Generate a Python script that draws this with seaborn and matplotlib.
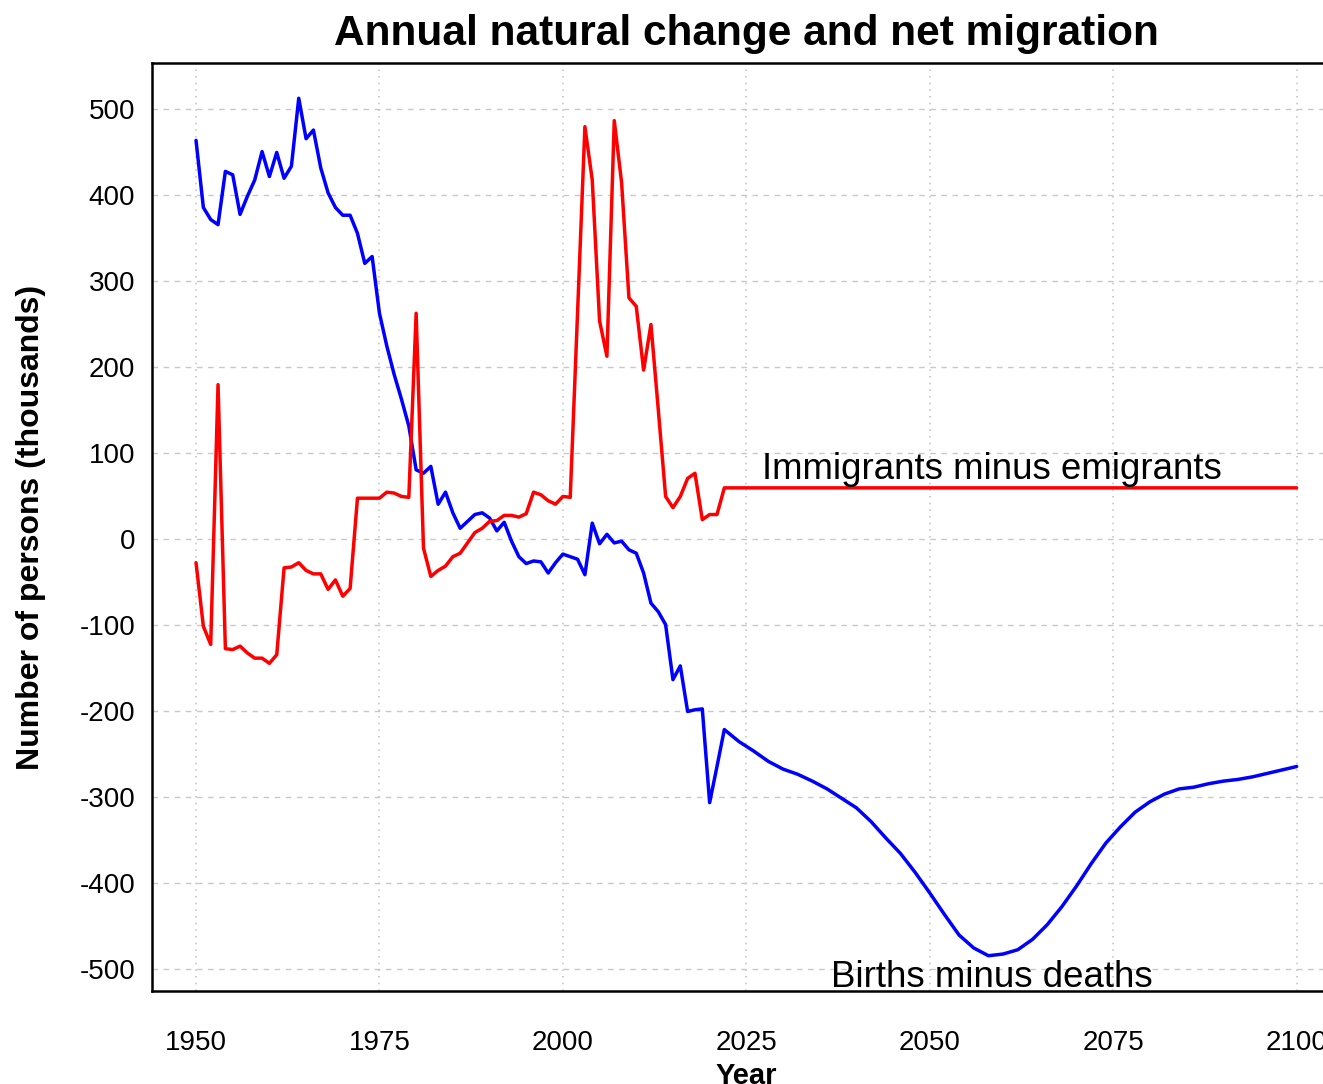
import matplotlib
matplotlib.use("Agg")
import matplotlib.pyplot as plt
import seaborn as sns
import pandas as pd
from matplotlib.ticker import MultipleLocator

# ---------------- data ----------------
natural_years = list(range(1950, 2022)) + list(range(2022, 2101, 2))
natural_values = [
    463, 385, 371, 365, 427, 423, 377, 398, 417, 450,   # 1950-1959
    421, 449, 419, 433, 512, 465, 475, 431, 402, 385,   # 1960-1969
    376, 376, 355, 320, 328, 262, 224, 191, 162, 131,   # 1970-1979
    80, 76, 84, 40, 54, 30, 12, 20, 28, 30,             # 1980-1989
    24, 9, 19, -3, -21, -29, -26, -27, -40, -28,        # 1990-1999
    -18, -21, -24, -42, 18, -6, 5, -5, -3, -13,         # 2000-2009
    -17, -40, -75, -85, -100, -164, -148, -201, -199, -198,  # 2010-2019
    -307, -265,                                         # 2020-2021
    # projection 2022-2100 (every 2 years)
    -222, -236, -247, -259, -268, -274, -282, -291, -302, -313,
    -329, -348, -366, -388, -412, -437, -461, -476, -485, -483,
    -478, -466, -449, -428, -404, -378, -354, -335, -318, -306,
    -297, -291, -289, -285, -282, -280, -277, -273, -269, -265,
]

migration_years = list(range(1950, 2022)) + [2022, 2100]
migration_values = [
    -28, -102, -123, 179, -128, -129, -125, -133, -139, -139,  # 1950-1959
    -145, -135, -34, -33, -28, -37, -41, -41, -59, -48,        # 1960-1969
    -67, -58, 47, 47, 47, 47, 54, 53, 49, 48,                  # 1970-1979
    262, -11, -44, -37, -32, -21, -17, -5, 7, 12,              # 1980-1989
    20, 21, 27, 27, 25, 29, 54, 51, 44, 40,                    # 1990-1999
    49, 48, 263, 479, 417, 253, 212, 486, 414, 280,            # 2000-2009
    270, 196, 249, 150, 49, 36, 49, 70, 76, 22,                # 2010-2019
    28, 28,                                                    # 2020-2021
    59, 59,                                                    # projection
]

series_names = ["Births minus deaths", "Immigrants minus emigrants"]
series_colors = {"Births minus deaths": "#0000ff",
                 "Immigrants minus emigrants": "#ff0000"}

x_ticks = [1950, 1975, 2000, 2025, 2050, 2075, 2100]
y_ticks = [-500, -400, -300, -200, -100, 0, 100, 200, 300, 400, 500]

df = pd.concat([
    pd.DataFrame({"year": natural_years, "value": natural_values,
                  "series": series_names[0]}),
    pd.DataFrame({"year": migration_years, "value": migration_values,
                  "series": series_names[1]}),
], ignore_index=True)

# ---------------- plot ----------------
sns.set_style("white")
plt.rcParams["font.family"] = ["Liberation Sans", "DejaVu Sans"]
plt.rcParams["text.color"] = "black"
plt.rcParams["axes.labelcolor"] = "black"
plt.rcParams["xtick.color"] = "black"
plt.rcParams["ytick.color"] = "black"

W, H = 1323, 1084
fig = plt.figure(figsize=(W / 100, H / 100), dpi=100)
left_px, right_px, top_px, bottom_px = 152, 1370, 63, 991
ax = fig.add_axes([left_px / W, (H - bottom_px) / H,
                   (right_px - left_px) / W, (bottom_px - top_px) / H])

sns.lineplot(data=df, x="year", y="value", hue="series",
             palette=series_colors, legend=False, estimator=None,
             sort=False, linewidth=2.5, ax=ax)

ax.set_xlim(1944, 2110)
ax.set_ylim(-526, 553)
ax.set_xticks(x_ticks)
ax.set_xticklabels([str(t) for t in x_ticks])
ax.set_yticks(y_ticks)
ax.set_yticklabels([str(t) for t in y_ticks])
ax.yaxis.set_minor_locator(MultipleLocator(20))

ax.tick_params(axis="y", which="major", direction="in", length=12,
               width=1.3, pad=12, labelsize=20, colors="black")
ax.tick_params(axis="y", which="minor", direction="in", length=8,
               width=1.3, colors="black")
ax.tick_params(axis="x", which="major", direction="out", length=12,
               width=1.3, pad=16, labelsize=20, colors="black")
ax.tick_params(axis="x", which="minor", bottom=False)

ax.grid(axis="y", which="major", linestyle=(0, (4, 4)), color="#c8c8c8", lw=1)
ax.grid(axis="x", which="major", linestyle=(0, (1, 3)), color="#c8c8c8", lw=1.2)
ax.set_axisbelow(True)

for s in ax.spines.values():
    s.set_color("black")
    s.set_linewidth(1.8)
    s.set_visible(True)

ax.set_ylabel("Number of persons (thousands)", fontsize=23,
              fontweight="bold", color="black")
ax.yaxis.set_label_coords(-0.087, 0.499)
ax.set_xlabel("Year", fontsize=21, fontweight="bold", color="black")
ax.xaxis.set_label_coords(0.4877, -0.0768)

ax.text(2027.1, 69, "Immigrants minus emigrants", fontsize=26.4,
        ha="left", va="baseline", color="black")
ax.text(2036.6, -521, "Births minus deaths", fontsize=26.4,
        ha="left", va="baseline", color="black", clip_on=True)

fig.text(746 / W, 1 - 45 / H, "Annual natural change and net migration",
         ha="center", va="baseline", fontsize=30.5, fontweight="bold",
         color="black")

fig.savefig("out.png", dpi=100)
